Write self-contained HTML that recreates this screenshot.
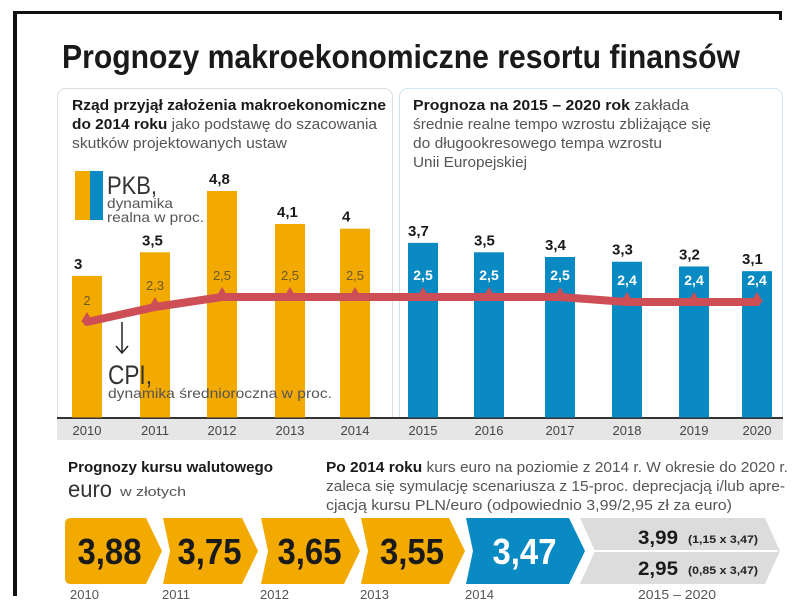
<!DOCTYPE html>
<html><head><meta charset="utf-8"><style>
html,body{margin:0;padding:0;background:#fff}
svg{display:block;font-family:"Liberation Sans Narrow","Liberation Sans",sans-serif}
</style></head><body>
<svg id="c" width="805" height="609" viewBox="0 0 805 609" xmlns="http://www.w3.org/2000/svg">
<rect x="0" y="0" width="805" height="609" fill="#fff"/>
<rect x="13" y="11" width="4" height="585" fill="#111"/>
<rect x="13" y="11" width="769" height="3" fill="#111"/>
<rect x="779" y="11" width="3" height="9" fill="#111"/>
<text x="62" y="68" font-size="33" font-weight="bold" fill="#1a1a1a" textLength="678" lengthAdjust="spacingAndGlyphs">Prognozy makroekonomiczne resortu finansów</text>

<rect x="57.5" y="88.5" width="335" height="350" rx="8" fill="#fff" stroke="#ddd"/>
<rect x="399.5" y="88.5" width="383" height="350" rx="8" fill="#fff" stroke="#cfe6ee"/>
<rect x="57" y="419" width="726" height="21" fill="#e6e6e6"/>
<rect x="57" y="417" width="726" height="2" fill="#333"/>

<g>
<text x="72" y="110" font-size="15" font-weight="bold" fill="#1a1a1a" textLength="314" lengthAdjust="spacingAndGlyphs">Rząd przyjął założenia makroekonomiczne</text>
<text x="72" y="129" font-size="15" fill="#555" textLength="305" lengthAdjust="spacingAndGlyphs"><tspan font-weight="bold" fill="#1a1a1a">do 2014 roku</tspan> jako podstawę do szacowania</text>
<text x="72" y="148" font-size="15" fill="#555" textLength="215" lengthAdjust="spacingAndGlyphs">skutków projektowanych ustaw</text>
</g>
<g>
<text x="413" y="110" font-size="15" fill="#555" textLength="276" lengthAdjust="spacingAndGlyphs"><tspan font-weight="bold" fill="#1a1a1a">Prognoza na 2015 – 2020 rok</tspan> zakłada</text>
<text x="413" y="129" font-size="15" fill="#555" textLength="298" lengthAdjust="spacingAndGlyphs">średnie realne tempo wzrostu zbliżające się</text>
<text x="413" y="148" font-size="15" fill="#555" textLength="249" lengthAdjust="spacingAndGlyphs">do długookresowego tempa wzrostu</text>
<text x="413" y="167" font-size="15" fill="#555" textLength="114" lengthAdjust="spacingAndGlyphs">Unii Europejskiej</text>
</g>
<g>
<rect x="75" y="171" width="15" height="49" fill="#f2a900"/>
<rect x="90" y="171" width="13" height="49" fill="#0a8ac3"/>
<text x="107" y="194" font-size="25" fill="#333" textLength="50" lengthAdjust="spacingAndGlyphs">PKB,</text>
<text x="107" y="208" font-size="14" fill="#555" textLength="66" lengthAdjust="spacingAndGlyphs">dynamika</text>
<text x="107" y="222" font-size="14" fill="#555" textLength="97" lengthAdjust="spacingAndGlyphs">realna w proc.</text>
</g>
<g id="bars"></g>
<g id="cpi"></g>
<g>
<line x1="122" y1="322" x2="122" y2="352" stroke="#222" stroke-width="1.5"/>
<path d="M116,346 L122,353 L128,346" fill="none" stroke="#222" stroke-width="1.5"/>
<text x="108" y="384" font-size="27" fill="#333" textLength="44" lengthAdjust="spacingAndGlyphs">CPI,</text>
<text x="108" y="398" font-size="14" fill="#555" textLength="224" lengthAdjust="spacingAndGlyphs">dynamika średnioroczna w proc.</text>
</g>
<g id="xlabels"></g>

<g>
<text x="68" y="472" font-size="15" font-weight="bold" fill="#1a1a1a" textLength="205" lengthAdjust="spacingAndGlyphs">Prognozy kursu walutowego</text>
<text x="68" y="497" font-size="23" fill="#333" textLength="44" lengthAdjust="spacingAndGlyphs">euro</text>
<text x="120" y="496" font-size="13" fill="#555" textLength="66" lengthAdjust="spacingAndGlyphs">w złotych</text>
</g>
<g>
<text x="326" y="472" font-size="15" fill="#555" textLength="462" lengthAdjust="spacingAndGlyphs"><tspan font-weight="bold" fill="#1a1a1a">Po 2014 roku</tspan> kurs euro na poziomie z 2014 r. W okresie do 2020 r.</text>
<text x="326" y="491" font-size="15" fill="#555" textLength="459" lengthAdjust="spacingAndGlyphs">zaleca się symulację scenariusza z 15-proc. deprecjacją i/lub apre-</text>
<text x="326" y="510" font-size="15" fill="#555" textLength="406" lengthAdjust="spacingAndGlyphs">cjacją kursu PLN/euro (odpowiednio 3,99/2,95 zł za euro)</text>
</g>
<g id="euro"></g>
<g>
<path d="M580,518 L765,518 L780,551 L765,584 L580,584 L595,551 Z" fill="#dcdcdc"/>
<line x1="590" y1="551" x2="778" y2="551" stroke="#fff" stroke-width="2"/>
<text x="638" y="544" font-size="19" font-weight="bold" fill="#1a1a1a" textLength="40" lengthAdjust="spacingAndGlyphs">3,99</text>
<text x="688" y="543" font-size="11" font-weight="bold" fill="#222" textLength="70" lengthAdjust="spacingAndGlyphs">(1,15 x 3,47)</text>
<text x="638" y="575" font-size="19" font-weight="bold" fill="#1a1a1a" textLength="40" lengthAdjust="spacingAndGlyphs">2,95</text>
<text x="688" y="574" font-size="11" font-weight="bold" fill="#222" textLength="70" lengthAdjust="spacingAndGlyphs">(0,85 x 3,47)</text>
<text x="638" y="599" font-size="13" fill="#555" textLength="78" lengthAdjust="spacingAndGlyphs">2015 – 2020</text>
</g>
</svg>
<script>
const years=["2010","2011","2012","2013","2014","2015","2016","2017","2018","2019","2020"];
const pkb=[3,3.5,4.8,4.1,4,3.7,3.5,3.4,3.3,3.2,3.1];
const cpi=[2,2.3,2.5,2.5,2.5,2.5,2.5,2.5,2.4,2.4,2.4];
const pkbLabels=["3","3,5","4,8","4,1","4","3,7","3,5","3,4","3,3","3,2","3,1"];
const cpiLabels=["2","2,3","2,5","2,5","2,5","2,5","2,5","2,5","2,4","2,4","2,4"];
const euroYears=["2010","2011","2012","2013","2014"];
const euroValues=[3.88,3.75,3.65,3.55,3.47];

const NS="http://www.w3.org/2000/svg";
function mk(tag,attrs,parent,txt){const e=document.createElementNS(NS,tag);for(const k in attrs)e.setAttribute(k,attrs[k]);if(txt!=null)e.textContent=txt;parent.appendChild(e);return e;}
const centers=[87,155,222,290,355,423,489,560,627,694,757];
function xPos(i){return centers[i];}
function yBar(v){return 417.5-v*47.2;}
function yCpi(v){return 422-v*50;}

const gb=document.getElementById('bars');
years.forEach((y,i)=>{
  const blue=i>=5, x=xPos(i), top=yBar(pkb[i]);
  const r=mk('rect',{x:x-15,y:top,width:30,height:417.5-top,fill:blue?'#0a8ac3':'#f2a900'},gb);
  
  
  const t=mk('text',{x:x-(blue?15:13),y:top-7,'font-size':15,'font-weight':'bold',fill:'#1a1a1a','font-family':'Liberation Sans'},gb,pkbLabels[i]);
  
  
});
const gc=document.getElementById('cpi');
let d='';
years.forEach((y,i)=>{d+=(i?'L':'M')+xPos(i)+','+yCpi(cpi[i]);});
const ln=mk('path',{d:d,fill:'none',stroke:'#cd4f55','stroke-width':8,'stroke-linejoin':'round','stroke-linecap':'round'},gc);


years.forEach((y,i)=>{
  const x=xPos(i),yy=yCpi(cpi[i]),blue=i>=5;
  const m=mk('path',{d:`M${x-6},${yy} L${x},${yy-10} L${x+6},${yy} Z`,fill:'#cd4f55'},gc);
  
  
  const t=mk('text',{x:x,y:yy-17,'text-anchor':'middle','font-size':blue?14:13,'font-weight':blue?'bold':'normal',fill:blue?'#fff':'#6b5a2a'},gc,cpiLabels[i]);
  
  
});
const gx=document.getElementById('xlabels');
years.forEach((y,i)=>{
  const t=mk('text',{x:xPos(i),y:435,'text-anchor':'middle','font-size':13,fill:'#444'},gx,y);
  
  
});
const ge=document.getElementById('euro');
const chevX=[65,157,255,355,460], chevTip=[162,258,360,465,585];
euroYears.forEach((y,i)=>{
  const x0=chevX[i],x1=chevTip[i],blue=i===4,top=518,bot=584,mid=551,n=i?13:0;
  const p=mk('path',{d:`M${x0+6},${top} L${x1-16},${top} L${x1},${mid} L${x1-16},${bot} L${x0+6},${bot} ${i?`L${x0+n},${mid}`:`Q${x0},${bot} ${x0},${bot-6} L${x0},${top+6} Q${x0},${top} ${x0+6},${top}`} Z`,fill:blue?'#0a8ac3':'#f2a900'},ge);
  
  
  const t=mk('text',{x:(x0+x1)/2+(i?2:-4),y:564,'text-anchor':'middle','font-size':36,'font-weight':'bold',fill:blue?'#fff':'#1a1a1a',textLength:64,lengthAdjust:'spacingAndGlyphs'},ge,euroValues[i].toFixed(2).replace('.',','));
  
  
  const l=mk('text',{x:x0+5,y:599,'font-size':13,fill:'#555'},ge,y);
  
  
});
</script>
</body></html>
